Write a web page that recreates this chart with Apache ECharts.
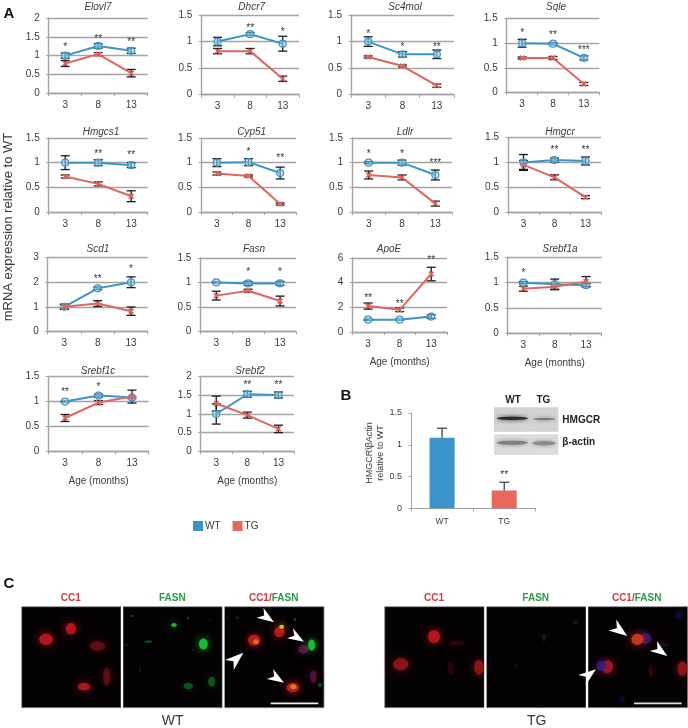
<!DOCTYPE html>
<html><head><meta charset="utf-8">
<style>html,body{margin:0;padding:0;background:#fff}#c{width:688px;height:728px;filter:blur(0.35px)}</style>
<script src="https://cdn.jsdelivr.net/npm/echarts@6/dist/echarts.min.js"></script>
</head><body><div id="c"></div>
<script>
const ages = ['3','8','13'];
const genes = ['Elovl7','Dhcr7','Sc4mol','Sqle','Hmgcs1','Cyp51','Ldlr','Hmgcr','Scd1','Fasn','ApoE','Srebf1a','Srebf1c','Srebf2'];
const yMax  = [2,1.5,1.5,1.5,1.5,1.5,1.5,1.5,3,1.5,6,1.5,1.5,2];
const yStep = [0.5,0.5,0.5,0.5,0.5,0.5,0.5,0.5,1,0.5,2,0.5,0.5,0.5];
const wtMean = [[1,1.26,1.13],[1,1.14,0.96],[1,0.76,0.76],[1,0.99,0.7],[1,1,0.95],[1,1.01,0.79],[1,1,0.75],[1,1.05,1.03],[1,1.75,2],[1,0.98,0.98],[1,1,1.25],[1,0.97,0.95],[1,1.12,1.08],[1,1.53,1.51]];
const wtErr  = [[0.07,0.06,0.07],[0.08,0.03,0.14],[0.09,0.05,0.08],[0.08,0.02,0.04],[0.14,0.06,0.05],[0.08,0.07,0.12],[0.02,0.05,0.1],[0.16,0.04,0.08],[0.1,0.05,0.22],[0.01,0.04,0.04],[0.05,0.05,0.15],[0.02,0.1,0.03],[0.01,0.03,0.02],[0.27,0.08,0.08]];
const tgMean = [[0.79,1.04,0.53],[0.82,0.82,0.3],[0.71,0.54,0.17],[0.7,0.7,0.17],[0.72,0.57,0.32],[0.78,0.73,0.16],[0.75,0.7,0.17],[0.95,0.7,0.3],[1,1.13,0.82],[0.73,0.83,0.62],[2.1,1.8,4.7],[0.88,0.92,1.02],[0.67,0.98,1.1],[1.28,0.97,0.6]];
const tgErr  = [[0.08,0.04,0.1],[0.05,0.05,0.05],[0.02,0.02,0.03],[0.02,0.03,0.03],[0.03,0.04,0.11],[0.03,0.02,0.02],[0.08,0.05,0.05],[0.09,0.05,0.03],[0.1,0.12,0.17],[0.09,0.03,0.1],[0.25,0.15,0.55],[0.05,0.06,0.1],[0.07,0.04,0.13],[0.2,0.08,0.1]];
const starText = [['*','**','**'],['','**','*'],['*','*','**'],['*','**','***'],['','**','**'],['','*','**'],['*','*','***'],['','**','**'],['','**','*'],['','*','*'],['**','**','**'],['*','',''],['**','*',''],['','**','**']];
const starAt = [[1.23,1.44,1.35],[0,1.25,1.17],[1.14,0.9,0.9],[1.2,1.17,0.855],[0,1.18,1.15],[0,1.22,1.08],[1.17,1.17,0.98],[0,1.24,1.25],[0,2.14,2.54],[0,1.2,1.2],[2.76,2.24,5.78],[1.19,0,0],[1.18,1.28,0],[0,1.78,1.78]];
const blotGroups = ['WT','TG'];
const blotMean = [1.11,0.28];
const blotErr  = [0.15,0.13];
const blotStars = ['','**'];
const blotStarAt = [0,0.52];

const FONT = '"Liberation Sans", Arial, sans-serif';
const BLUE = '#3b95c6', RED = '#e0655f', GRID = '#a3a3a3', TXT = '#3a3a3a';
const BLUEBAR = '#3a94ca', REDBAR = '#e8685e';
// plot rectangles: left, right, top, bottom
const boxes = [[48.7,147.7,18.3,93],[201.3,299,15,94.7],[351,454,15,94.7],[506.7,599.3,18.7,92.3],
 [48.7,147.7,138,212],[201,296,138,212],[352,452,138,212],[508,601,137.7,212],
 [47.7,147.7,257.7,331.3],[200.3,296,258,331.3],[352.3,447,258,332],[507.7,601.7,257.3,333.3],
 [48.3,148.7,376.7,451.3],[200.7,294,376.7,451.3]];
const titleX = [98,251.7,405,556,101,251.7,405,560,98,254,389,560,98,250];
const titleTop = [2,2,2,2,127,127,127,127,244,244,244,244,366,366];
const named = {10:1,11:1,12:1,13:1};

const grid=[],xAxis=[],yAxis=[],series=[],title=[];
function axes(i,box,cats,max,step,fs,withName){
  grid.push({left:box[0],top:box[2],width:box[1]-box[0],height:box[3]-box[2],containLabel:false});
  xAxis.push({type:'category',gridIndex:i,data:cats,boundaryGap:true,
    axisLine:{show:true,onZero:false,lineStyle:{color:GRID,width:1.4}},
    axisTick:{show:true,alignWithLabel:false,length:3,lineStyle:{color:GRID,width:1}},
    axisLabel:{show:true,interval:0,margin:7,fontSize:fs,fontFamily:FONT,color:TXT},
    splitLine:{show:false},
    name:withName?'Age (months)':'',nameLocation:'middle',nameGap:25,
    nameTextStyle:{fontSize:10,fontFamily:FONT,color:TXT}});
  yAxis.push({type:'value',gridIndex:i,min:0,max:max,interval:step,
    axisLine:{show:true,onZero:false,lineStyle:{color:GRID,width:1.4}},
    axisTick:{show:true,length:2.5,lineStyle:{color:GRID,width:1}},
    axisLabel:{show:true,margin:9,fontSize:fs,fontFamily:FONT,color:TXT},
    splitLine:{show:true,lineStyle:{color:GRID,width:1.4}}});
}
function errSeries(i,means,errs,capW,upOnly){
  series.push({type:'custom',name:'err',xAxisIndex:i,yAxisIndex:i,silent:true,z:3,clip:false,
    data:means.map((m,k)=>[k,upOnly?m:m-errs[k],m+errs[k]]),
    encode:{x:0,y:[1,2]},
    renderItem:function(p,api){
      const lo=api.coord([api.value(0),api.value(1)]),hi=api.coord([api.value(0),api.value(2)]);
      const st={stroke:upOnly?'#444':'#1a1a1a',lineWidth:1.3};
      const ch=[{type:'line',shape:{x1:lo[0],y1:lo[1],x2:hi[0],y2:hi[1]},style:st},
                {type:'line',shape:{x1:hi[0]-capW/2,y1:hi[1],x2:hi[0]+capW/2,y2:hi[1]},style:st}];
      if(!upOnly) ch.push({type:'line',shape:{x1:lo[0]-capW/2,y1:lo[1],x2:lo[0]+capW/2,y2:lo[1]},style:st});
      return {type:'group',children:ch};
    }});
}
function starSeries(i,texts,ats,fs){
  series.push({type:'custom',name:'stars',xAxisIndex:i,yAxisIndex:i,silent:true,z:6,clip:false,
    data:texts.map((t,k)=>[k,ats[k],t]),
    encode:{x:0,y:1},
    renderItem:function(p,api){
      const c=api.coord([api.value(0),api.value(1)]);
      const t=texts[p.dataIndex];
      if(!t) return {type:'group',children:[]};
      return {type:'text',style:{text:t,x:c[0],y:c[1],align:'center',verticalAlign:'middle',fontSize:fs,fontFamily:FONT,fill:'#333'}};
    }});
}
const XMARK='path://M2,0 L5,3 L8,0 L10,2 L7,5 L10,8 L8,10 L5,7 L2,10 L0,8 L3,5 L0,2 Z';
genes.forEach((g,i)=>{
  const b=boxes[i];
  axes(i,b,ages,yMax[i],yStep[i],10,!!named[i]);
  title.push({text:g,left:titleX[i],top:titleTop[i],textAlign:'center',padding:0,
    textStyle:{fontSize:10,fontStyle:'italic',fontWeight:'normal',fontFamily:FONT,color:TXT}});
  errSeries(i,wtMean[i],wtErr[i],9,false);
  errSeries(i,tgMean[i],tgErr[i],9,false);
  series.push({type:'line',name:'WT',xAxisIndex:i,yAxisIndex:i,data:wtMean[i],z:4,silent:true,animation:false,
    lineStyle:{color:BLUE,width:2},symbol:'circle',symbolSize:7,
    itemStyle:{color:'rgba(150,205,232,0.55)',borderColor:BLUE,borderWidth:1.2}});
  series.push({type:'line',name:'TG',xAxisIndex:i,yAxisIndex:i,data:tgMean[i],z:5,silent:true,animation:false,
    lineStyle:{color:RED,width:2},symbol:XMARK,symbolSize:6,
    itemStyle:{color:RED}});
  starSeries(i,starText[i],starAt[i],10);
});
// panel B
const bi=genes.length;
axes(bi,[411,535.3,413,508.3],blotGroups,1.5,0.5,9,false);
yAxis[bi].splitLine.show=false;
xAxis[bi].axisLabel.fontSize=8.5; xAxis[bi].axisLabel.margin=9;
yAxis[bi].axisLine.lineStyle.width=1; xAxis[bi].axisLine.lineStyle.width=1;
series.push({type:'bar',name:'bar',xAxisIndex:bi,yAxisIndex:bi,barWidth:25,silent:true,animation:false,z:2,
  data:blotMean.map((v,k)=>({value:v,itemStyle:{color:k?REDBAR:BLUEBAR}}))});
errSeries(bi,blotMean,blotErr,10,true);
starSeries(bi,blotStars,blotStarAt,10);

// micrographs and blot (image content, not chart data)
const g=[];
const zx=(ox,v)=>ox+v/3, zy=(v)=>570+v/3;
function blob(ox,x,y,rx,ry,col,blur){
  g.push({type:'ellipse',silent:true,shape:{cx:zx(ox,x),cy:zy(y),rx:rx/3*1.2,ry:ry/3*1.2},
    style:{fill:col,shadowBlur:(blur==null?5:blur)+5,shadowColor:col}});
}
function rect(x,y,w,h,fill,stroke){g.push({type:'rect',silent:true,shape:{x,y,width:w,height:h},style:{fill,stroke:stroke||null,lineWidth:stroke?0.8:0}});}
function txt(t,x,y,o){o=o||{};g.push({type:'text',silent:true,x:x,y:y,rotation:o.rot||0,
  style:{text:t,x:0,y:0,align:o.align||'center',verticalAlign:'middle',fontFamily:FONT,fontSize:o.size||10,fontWeight:o.weight||'normal',fill:o.fill||TXT}});}
function arrow(ox,tx,ty,bx,by){
  const T=[zx(ox,tx),zy(ty)],B=[zx(ox,bx),zy(by)];
  let dx=T[0]-B[0],dy=T[1]-B[1];const L=Math.hypot(dx,dy);dx/=L;dy/=L;
  const w=L*0.36,nx=-dy,ny=dx;
  g.push({type:'polygon',silent:true,z:5,shape:{points:[T,[B[0]+nx*w,B[1]+ny*w],[B[0]+dx*L*0.3,B[1]+dy*L*0.3],[B[0]-nx*w,B[1]-ny*w]]},style:{fill:'#fff'}});
}
const PY=606.7,PH=101;
const panelsX=[[21.7,99.3],[123,99.3],[224.3,99.7],[384.7,99.6],[486.3,99.7],[588,99.7]];
panelsX.forEach(p=>rect(p[0],PY,p[1],PH,'#050203','#8a8a8a'));
const R='rgba(190,24,30,0.9)',Rd='rgba(115,16,22,0.75)',Rk='rgba(70,10,16,0.55)',Gn='rgba(30,195,60,0.9)',Gd='rgba(20,120,40,0.65)',Gk='rgba(15,70,30,0.5)';
// WT CC1
blob(0,138,208,17,14,R);blob(0,213,176,13,14,R);blob(0,293,228,19,12,Rd);blob(0,320,320,9,22,Rd);blob(0,252,350,15,9,R);
// WT FASN
blob(0,610,222,11,14,Gn,4);blob(0,522,165,7,5,Gn,3);blob(0,395,138,3,3,Gd,3);blob(0,565,145,3,3,Gd,3);blob(0,445,215,10,3,Gd,3);
blob(0,565,348,12,8,Gd,4);blob(0,635,335,9,12,Gd,4);blob(0,630,150,2,3,Gk,3);blob(0,380,225,5,3,Gk,3);blob(0,580,240,3,3,Gk,3);blob(0,420,300,3,4,Gk,3);
// WT merge
blob(0,762,210,15,14,R);blob(0,768,215,7,6,'rgba(230,120,40,0.8)',2);blob(0,838,186,13,13,R);blob(0,845,170,6,5,'rgba(215,205,50,0.9)',2);
blob(0,910,238,13,11,'rgba(100,28,85,0.75)');blob(0,935,225,9,14,Gn,4);blob(0,878,353,16,11,R);blob(0,880,350,8,6,'rgba(230,140,40,0.8)',2);
blob(0,940,320,8,16,'rgba(100,22,65,0.75)');blob(0,960,345,5,5,Gd,3);blob(0,712,143,3,3,Gd,3);blob(0,885,148,3,4,Gd,3);blob(0,685,143,4,5,Rk,3);
// TG CC1
const o2=344;
blob(o2,270,200,15,16,R);blob(o2,170,283,19,15,'rgba(150,22,28,0.85)');blob(o2,405,292,12,19,'rgba(150,22,28,0.85)');blob(o2,340,220,20,7,Rk);blob(o2,320,295,7,16,Rk);
// TG FASN
blob(o2,600,203,5,9,Gk,4);blob(o2,695,158,7,5,'rgba(15,60,25,0.45)',4);blob(o2,515,285,3,6,'rgba(15,60,25,0.45)',3);blob(o2,590,408,3,2,'rgba(15,60,25,0.45)',3);
// TG merge
blob(o2,905,205,14,14,'rgba(65,25,110,0.8)');blob(o2,880,208,15,14,'rgba(205,60,30,0.9)');blob(o2,790,290,14,16,'rgba(175,26,32,0.9)');blob(o2,772,288,12,13,'rgba(55,30,130,0.85)');
blob(o2,1015,296,12,18,'rgba(150,22,28,0.85)');blob(o2,1005,135,10,10,'rgba(20,15,85,0.65)');blob(o2,835,388,7,7,'rgba(20,15,85,0.55)');blob(o2,920,305,6,16,Rk);blob(o2,960,225,12,7,'rgba(65,15,65,0.45)');
// white gaps and edges
[[121.2,1.8],[222.6,1.7],[484.4,1.9],[586.1,1.9]].forEach(a=>rect(a[0],PY-1,a[1],PH+2,'#fff'));
// arrows
arrow(0,822,157,780,128);arrow(0,912,215,870,190);arrow(0,730,248,688,285);arrow(0,852,338,810,312);
arrow(o2,850,198,805,165);arrow(o2,970,258,928,228);arrow(o2,756,298,714,330);
// scale bars
rect(270.7,702.6,47.6,1.6,'#eee');rect(634,702.6,47.7,1.6,'#ddd');
// labels for C
txt('CC1',70.7,598,{weight:'bold',fill:'#d5383e'});txt('FASN',172.3,598,{weight:'bold',fill:'#2a9a44'});
txt('CC1/',271.7,598,{weight:'bold',fill:'#d5383e',align:'right'});txt('FASN',271.7,598,{weight:'bold',fill:'#2a9a44',align:'left'});
txt('CC1',434,598,{weight:'bold',fill:'#d5383e'});txt('FASN',535.7,598,{weight:'bold',fill:'#2a9a44'});
txt('CC1/',634.7,598,{weight:'bold',fill:'#d5383e',align:'right'});txt('FASN',634.7,598,{weight:'bold',fill:'#2a9a44',align:'left'});
txt('WT',172.7,721.5,{size:14});txt('TG',536.7,721.5,{size:14});
// section letters and axis titles
txt('A',9,14,{size:15,weight:'bold',fill:'#111'});txt('B',346,396,{size:15,weight:'bold',fill:'#111'});txt('C',9,584,{size:15,weight:'bold',fill:'#111'});
txt('mRNA expression relative to WT',8,227,{size:13,rot:Math.PI/2});
txt('HMGCR\\\u03B2Actin',369.5,453,{size:9,rot:Math.PI/2});txt('relative to WT',381,453,{size:9,rot:Math.PI/2});
// blot
const bx=v=>340+v/3, by=v=>240+v/3;
rect(bx(462),by(502),193/3,73/3,'#d3d3d3');rect(bx(462),by(583),193/3,62/3,'#dcdcdc');
function band(x,y,rx,ry,col,bl){g.push({type:'ellipse',silent:true,shape:{cx:bx(x),cy:by(y),rx:rx/3,ry:ry/3},style:{fill:col,shadowBlur:bl,shadowColor:col}});}
band(517,535,47,5,'#2a2a2a',4);band(613,537,33,3,'#777',4);band(517,608,47,6,'#808080',4);band(612,610,35,6,'#8a8a8a',4);
txt('WT',bx(519),by(480),{weight:'bold',size:10,fill:'#222'});txt('TG',bx(610),by(480),{weight:'bold',size:10,fill:'#222'});
txt('HMGCR',bx(667),by(541),{weight:'bold',size:10,fill:'#222',align:'left'});txt('\u03B2-actin',bx(667),by(608),{weight:'bold',size:10,fill:'#222',align:'left'});

const chart=echarts.init(document.getElementById('c'),null,{renderer:'canvas',width:688,height:728});
chart.setOption({animation:false,backgroundColor:'#fff',title,grid,xAxis,yAxis,series,graphic:{elements:g},
  legend:{left:193,top:521,padding:0,itemWidth:10,itemHeight:10,itemGap:12,selectedMode:false,
    textStyle:{fontSize:10,fontFamily:FONT,color:TXT,padding:[0,0,0,-3]},
    data:[{name:'WT',icon:'rect',itemStyle:{color:BLUEBAR,borderWidth:0}},{name:'TG',icon:'rect',itemStyle:{color:REDBAR,borderWidth:0}}]}
});
</script></body></html>
